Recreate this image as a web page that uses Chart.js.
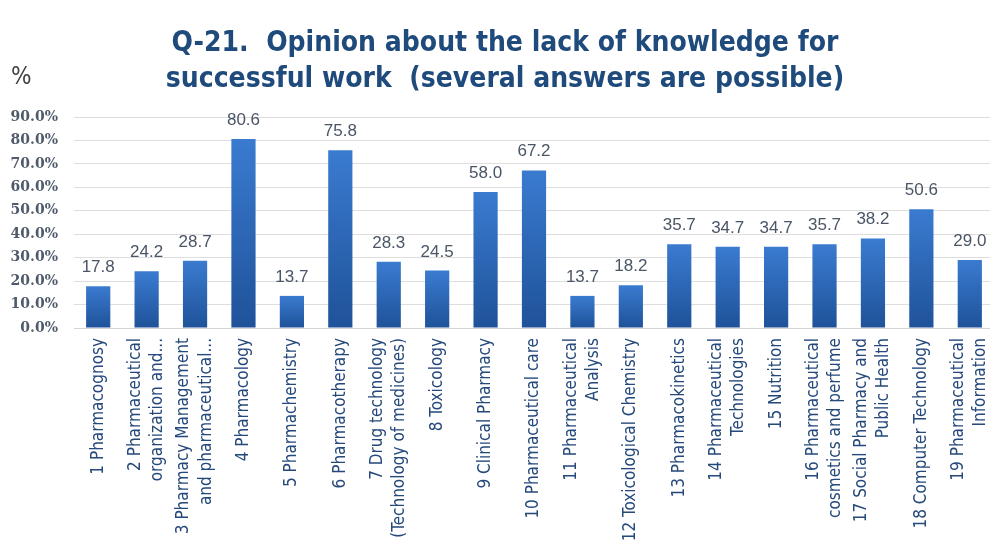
<!DOCTYPE html>
<html>
<head>
<meta charset="utf-8">
<script src="https://cdn.jsdelivr.net/npm/chart.js@4.4.1/dist/chart.umd.min.js"></script>
<style>
  html, body { margin: 0; padding: 0; background: #fff; overflow: hidden; }
  #wrap { width: 994px; height: 547px; }
</style>
</head>
<body>
<div id="wrap"><canvas id="chart"></canvas></div>
<script>
const titleLines = ['Q-21.  Opinion about the lack of knowledge for', 'successful work  (several answers are possible)'];
const subjects = [
  ['1 Pharmacognosy'],
  ['2 Pharmaceutical', 'organization and...'],
  ['3 Pharmacy Management', 'and pharmaceutical...'],
  ['4 Pharmacology'],
  ['5 Pharmachemistry'],
  ['6 Pharmacotherapy'],
  ['7 Drug technology', '(Technology of medicines)'],
  ['8 Toxicology'],
  ['9 Clinical Pharmacy'],
  ['10 Pharmaceutical care'],
  ['11 Pharmaceutical', 'Analysis'],
  ['12 Toxicological Chemistry'],
  ['13 Pharmacokinetics'],
  ['14 Pharmaceutical', 'Technologies'],
  ['15 Nutrition'],
  ['16 Pharmaceutical', 'cosmetics and perfume'],
  ['17 Social Pharmacy and', 'Public Health'],
  ['18 Computer Technology'],
  ['19 Pharmaceutical', 'Information']
];
const percents = [17.8, 24.2, 28.7, 80.6, 13.7, 75.8, 28.3, 24.5, 58.0, 67.2, 13.7, 18.2, 35.7, 34.7, 34.7, 35.7, 38.2, 50.6, 29.0];
const yTicks = [0, 10, 20, 30, 40, 50, 60, 70, 80, 90];

const NARROW = '"DejaVu Sans Condensed", "Liberation Sans Narrow", sans-serif';
const LABEL_SIZE = 17;
const LABEL_LINE = 1.3;

// title + "%" unit drawn on top of the canvas
const headerPlugin = {
  id: 'header',
  afterDraw(chart) {
    const ctx = chart.ctx;
    ctx.save();
    ctx.fillStyle = '#1f4a7c';
    ctx.font = 'bold 28px ' + NARROW;
    ctx.textAlign = 'center';
    ctx.textBaseline = 'alphabetic';
    ctx.fillText(titleLines[0], 505, 51);
    ctx.fillText(titleLines[1], 505, 87);
    ctx.fillStyle = '#404040';
    ctx.font = '24px ' + NARROW;
    ctx.textAlign = 'left';
    ctx.fillText('%', 11, 84);
    ctx.restore();
  }
};

// rotated two-line category labels: center both lines on the bar
const centerLabels = {
  id: 'centerLabels',
  beforeDraw(chart) {
    const lh = LABEL_SIZE * LABEL_LINE;
    chart.scales.x.getLabelItems().forEach(item => {
      if (item._centered || !Array.isArray(item.label)) return;
      item.textOffset -= (item.label.length - 1) * lh / 2;
      item._centered = true;
    });
  }
};

// value labels above each bar
const valueLabels = {
  id: 'valueLabels',
  afterDatasetsDraw(chart) {
    const ctx = chart.ctx;
    const meta = chart.getDatasetMeta(0);
    ctx.save();
    ctx.fillStyle = '#4a5566';
    ctx.font = '17px "Liberation Sans", sans-serif';
    ctx.textAlign = 'center';
    ctx.textBaseline = 'alphabetic';
    meta.data.forEach((bar, i) => {
      ctx.fillText(percents[i].toFixed(1), bar.x, bar.y - 14);
    });
    ctx.restore();
  }
};

const ctx = document.getElementById('chart').getContext('2d');
new Chart(ctx, {
  type: 'bar',
  data: {
    labels: subjects,
    datasets: [{
      data: percents,
      backgroundColor: (c) => {
        const chart = c.chart;
        if (!chart.chartArea || c.raw === undefined) return '#2e67b8';
        const y = chart.scales.y;
        const top = y.getPixelForValue(c.raw);
        const bottom = y.getPixelForValue(0);
        const g = chart.ctx.createLinearGradient(0, top, 0, bottom);
        g.addColorStop(0, '#3a7bd0');
        g.addColorStop(1, '#1f5299');
        return g;
      },
      borderWidth: 0,
      barPercentage: 0.5,
      categoryPercentage: 1.0
    }]
  },
  options: {
    responsive: true,
    maintainAspectRatio: false,
    animation: false,
    layout: { padding: { top: 117, right: 0, bottom: 0, left: 0 } },
    plugins: {
      legend: { display: false },
      tooltip: { enabled: false },
      title: { display: false }
    },
    scales: {
      x: {
        grid: { display: false, drawTicks: false },
        border: { display: true, color: '#d4d4d4' },
        ticks: {
          minRotation: 90,
          maxRotation: 90,
          autoSkip: false,
          padding: 10,
          color: '#25497a',
          font: { family: NARROW, size: LABEL_SIZE, lineHeight: LABEL_LINE }
        },
        afterFit(scale) {
          scale.height = 219;
          // labels may overhang the plot edges
          scale.paddingLeft = 0;
          scale.paddingRight = 0;
        }
      },
      y: {
        min: 0,
        max: 90,
        afterBuildTicks(scale) { scale.ticks = yTicks.map(v => ({ value: v })); },
        grid: { color: '#dedede', drawTicks: false },
        border: { display: false },
        ticks: {
          padding: 16,
          color: '#4f5b6b',
          font: { family: '"DejaVu Serif", serif', size: 14, weight: 'bold' },
          callback: v => v.toFixed(1) + '%'
        },
        afterFit(scale) { scale.width = 74; }
      }
    }
  },
  plugins: [headerPlugin, centerLabels, valueLabels]
});
</script>
</body>
</html>
